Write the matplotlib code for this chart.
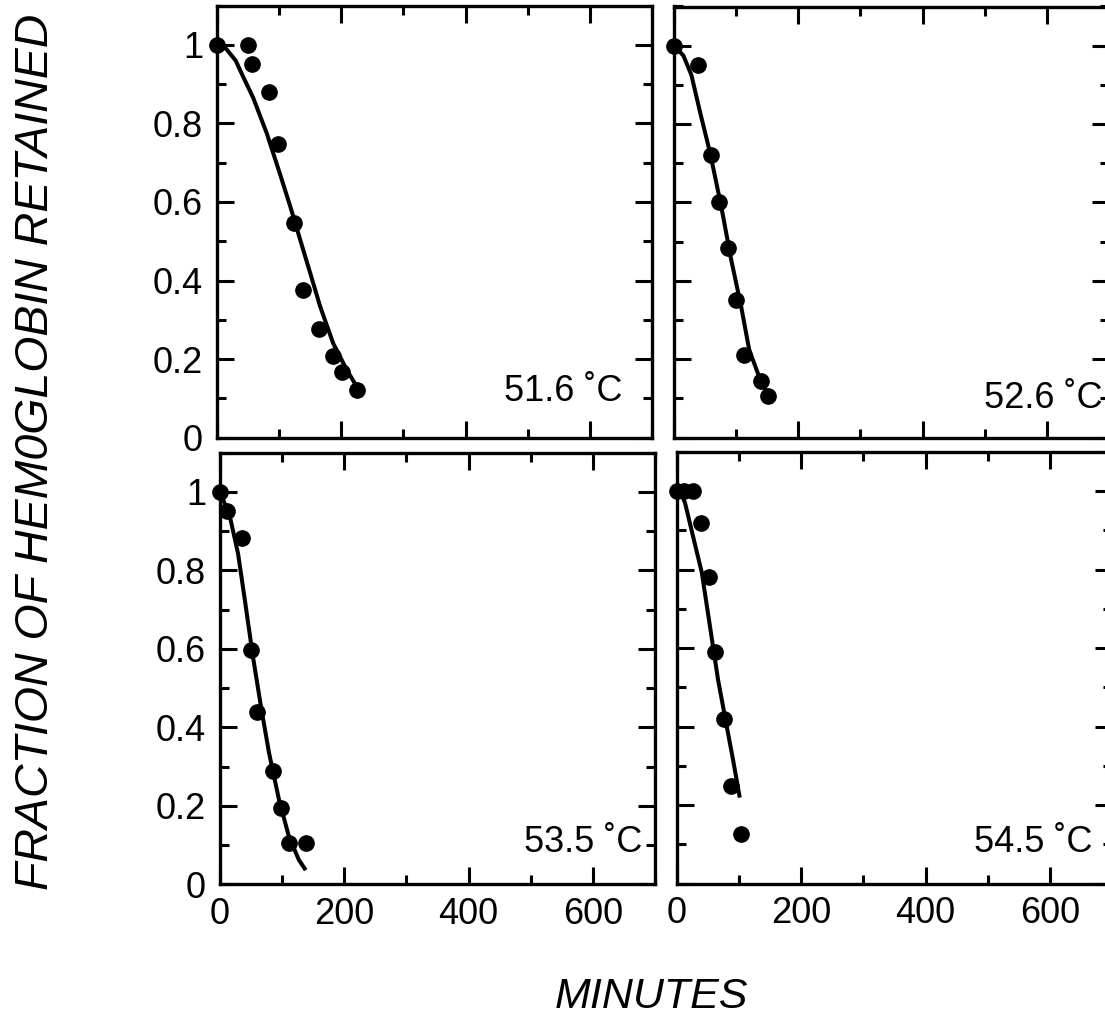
import matplotlib
matplotlib.use("Agg")
import matplotlib.pyplot as plt
from matplotlib.ticker import FixedLocator, MultipleLocator, NullFormatter

# ---------------- data ----------------
temps = ["51.6 ˚C", "52.6 ˚C", "53.5 ˚C", "54.5 ˚C"]

# measured points (minutes, fraction retained)
t516_x = [0, 50, 57, 84, 98, 124, 138, 164, 186, 201, 226]
t516_y = [1.0, 1.0, 0.951, 0.881, 0.747, 0.547, 0.376, 0.276, 0.209, 0.168, 0.121]
t526_x = [0, 39, 60, 72, 87, 100, 113, 140, 152]
t526_y = [1.0, 0.951, 0.720, 0.601, 0.484, 0.352, 0.211, 0.144, 0.107]
t535_x = [0, 11, 36, 50, 59, 86, 98, 111, 138]
t535_y = [1.0, 0.952, 0.883, 0.597, 0.440, 0.289, 0.194, 0.104, 0.104]
t545_x = [0, 11, 26, 38, 52, 61, 75, 87, 103]
t545_y = [1.0, 1.0, 1.0, 0.919, 0.782, 0.591, 0.420, 0.249, 0.126]

# fitted curves (traced)
f516_x = [0, 13, 30, 42, 58, 80, 101, 118, 134, 150, 166, 187, 209, 225]
f516_y = [1.0, 0.993, 0.960, 0.919, 0.866, 0.775, 0.673, 0.588, 0.503, 0.419, 0.334, 0.240, 0.172, 0.130]
f526_x = [0, 15, 28, 42, 58, 76, 92, 108, 121, 137, 153]
f526_y = [1.0, 0.975, 0.925, 0.830, 0.727, 0.590, 0.454, 0.335, 0.224, 0.155, 0.104]
f535_x = [0, 16, 29, 40, 53, 66, 79, 95, 111, 127, 138]
f535_y = [1.0, 0.936, 0.843, 0.724, 0.580, 0.452, 0.334, 0.215, 0.121, 0.062, 0.036]
f545_x = [5, 13, 27, 40, 53, 66, 80, 90, 101]
f545_y = [1.0, 0.970, 0.877, 0.792, 0.656, 0.520, 0.401, 0.317, 0.219]

xtick_vals = [0, 200, 400, 600]
xtick_labels = ["0", "200", "400", "600"]
ytick_vals = [0, 0.2, 0.4, 0.6, 0.8, 1.0]
ytick_labels = ["0", "0.2", "0.4", "0.6", "0.8", "1"]

ylabel = "FRACTION OF HEM0GLOBIN RETAINED"
xlabel = "MINUTES"

# ---------------- figure ----------------
plt.rcParams["font.family"] = ["Liberation Sans", "DejaVu Sans"]
W, H = 1105, 1027
fig = plt.figure(figsize=(W / 100, H / 100), dpi=100)

def frac(left, top, right, bottom):
    return [left / W, 1 - bottom / H, (right - left) / W, (bottom - top) / H]

positions = [
    frac(217, 5.5, 652, 437.7),
    frac(674, 6.5, 1109, 437.5),
    frac(220, 452.5, 655, 884.3),
    frac(677, 452.0, 1112, 883.5),
]
label_pos = [(0.933, 0.086), (0.986, 0.068), (0.970, 0.074), (0.956, 0.072)]

pts = [(t516_x, t516_y), (t526_x, t526_y), (t535_x, t535_y), (t545_x, t545_y)]
fits = [(f516_x, f516_y), (f526_x, f526_y), (f535_x, f535_y), (f545_x, f545_y)]

for i in range(4):
    ax = fig.add_axes(positions[i])
    ax.set_xlim(0, 700)
    ax.set_ylim(0, 1.1)
    fx, fy = fits[i]
    ax.plot(fx, fy, color="black", lw=2.9, solid_capstyle="butt",
            solid_joinstyle="round", zorder=3)
    px, py = pts[i]
    ax.plot(px, py, "o", color="black", ms=11, clip_on=False, zorder=4)

    ax.xaxis.set_major_locator(FixedLocator(xtick_vals))
    ax.xaxis.set_minor_locator(MultipleLocator(100))
    ax.yaxis.set_major_locator(FixedLocator(ytick_vals))
    ax.yaxis.set_minor_locator(MultipleLocator(0.1))
    ax.tick_params(which="both", direction="in", top=True, right=True,
                   width=2.2, labelsize=26, colors="black")
    ax.tick_params(which="major", length=12)
    ax.tick_params(which="minor", length=6.5)
    ax.tick_params(axis="x", pad=9)
    ax.tick_params(axis="y", pad=10)
    for s in ax.spines.values():
        s.set_linewidth(2.4)

    if i >= 2:
        ax.set_xticklabels(xtick_labels)
    else:
        ax.xaxis.set_major_formatter(NullFormatter())
    if i % 2 == 0:
        ax.set_yticklabels(ytick_labels)
    else:
        ax.yaxis.set_major_formatter(NullFormatter())

    lx, ly = label_pos[i]
    ax.text(lx, ly, temps[i], transform=ax.transAxes, ha="right",
            va="baseline", fontsize=26, zorder=5)

fig.text(36 / W, 1 - 452 / H, ylabel, rotation=90, ha="center", va="center",
         fontsize=33.5, style="italic")
fig.text(651 / W, 1 - 997 / H, xlabel, ha="center", va="center",
         fontsize=31, style="italic")

fig.savefig("out.png", dpi=100)
